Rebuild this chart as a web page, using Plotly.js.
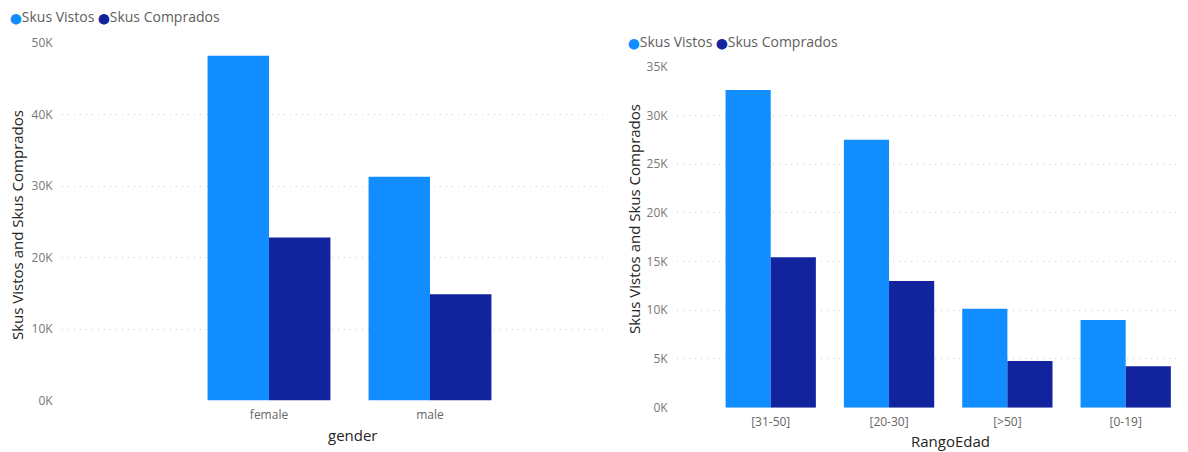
<!DOCTYPE html>
<html>
<head>
<meta charset="utf-8">
<script src="https://cdn.plot.ly/plotly-3.0.1.min.js"></script>
<style>html,body{margin:0;padding:0;background:#fff;}#chart{width:1188px;height:452px;}</style>
</head>
<body>
<div id="chart"></div>
<script>
// ---- data ----
const genderCats = ["female", "male"];
const genderVistos = [48200, 31300];
const genderComprados = [22800, 14850];

const edadCats = ["[31-50]", "[20-30]", "[>50]", "[0-19]"];
const edadVistos = [32600, 27500, 10150, 9000];
const edadComprados = [15450, 13000, 4800, 4250];

const leftTickVals = [0, 10000, 20000, 30000, 40000, 50000];
const leftTickText = ["0K", "10K", "20K", "30K", "40K", "50K"];
const rightTickVals = [0, 5000, 10000, 15000, 20000, 25000, 30000, 35000];
const rightTickText = ["0K", "5K", "10K", "15K", "20K", "25K", "30K", "35K"];

const seriesNames = ["Skus Vistos", "Skus Comprados"];
// ---- style ----
const C1 = "#118DFF", C2 = "#12239E";
const FONT = "'Segoe UI', 'Open Sans', sans-serif";
const W = 1188, H = 452;
const px = v => v / W, py = v => 1 - v / H;

const traces = [
  {type: "bar", name: seriesNames[0], x: genderCats, y: genderVistos, marker: {color: C1}, xaxis: "x", yaxis: "y", showlegend: false, hoverinfo: "x+y+name"},
  {type: "bar", name: seriesNames[1], x: genderCats, y: genderComprados, marker: {color: C2}, xaxis: "x", yaxis: "y", showlegend: false, hoverinfo: "x+y+name"},
  {type: "bar", name: seriesNames[0], x: edadCats, y: edadVistos, marker: {color: C1}, xaxis: "x2", yaxis: "y2", showlegend: false, hoverinfo: "x+y+name"},
  {type: "bar", name: seriesNames[1], x: edadCats, y: edadComprados, marker: {color: C2}, xaxis: "x2", yaxis: "y2", showlegend: false, hoverinfo: "x+y+name"}
];

const gridStyle = {showgrid: true, gridcolor: "#c8c8c8", gridwidth: 1, griddash: "1px,5px", zeroline: false, showline: false};
const tickFontY = {family: FONT, size: 12, color: "#777777"};
const tickFontX = {family: FONT, size: 12, color: "#666666"};

function legendText() {
  return '<span style="color:' + C1 + ';font-family:DejaVu Sans;font-size:10.5px">⬤</span>' + seriesNames[0] +
         ' <span style="color:' + C2 + ';font-family:DejaVu Sans;font-size:10.5px">⬤</span>' + seriesNames[1];
}

const layout = {
  width: W, height: H,
  margin: {l: 0, r: 0, t: 0, b: 0},
  paper_bgcolor: "#fff", plot_bgcolor: "#fff",
  barmode: "group", bargap: 0.237, bargroupgap: 0,
  showlegend: false,
  font: {family: FONT},
  xaxis: {domain: [px(62), px(605)], anchor: "y", type: "category", range: [-1.2857, 2.087], showgrid: false, zeroline: false, showline: false,
          ticks: "outside", ticklen: 3, tickcolor: "rgba(0,0,0,0)", tickfont: tickFontX, fixedrange: true},
  yaxis: Object.assign({domain: [py(400.5), py(43)], anchor: "x", range: [0, 50000], tickvals: leftTickVals, ticktext: leftTickText,
          ticks: "outside", ticklen: 6, tickcolor: "rgba(0,0,0,0)", tickfont: tickFontY, fixedrange: true}, gridStyle),
  xaxis2: {domain: [px(677), px(1178)], anchor: "y2", type: "category", range: [-0.792, 3.442], showgrid: false, zeroline: false, showline: false,
          ticks: "outside", ticklen: 3, tickcolor: "rgba(0,0,0,0)", tickfont: tickFontX, fixedrange: true},
  yaxis2: Object.assign({domain: [py(407.7), py(66.7)], anchor: "x2", range: [0, 35000], tickvals: rightTickVals, ticktext: rightTickText,
          ticks: "outside", ticklen: 6, tickcolor: "rgba(0,0,0,0)", tickfont: tickFontY, fixedrange: true}, gridStyle),
  annotations: [
    {xref: "paper", yref: "paper", x: px(8), y: py(16.5), xanchor: "left", yanchor: "middle", showarrow: false,
     font: {family: FONT, size: 14, color: "#605E5C"}, text: legendText()},
    {xref: "paper", yref: "paper", x: px(626), y: py(41.5), xanchor: "left", yanchor: "middle", showarrow: false,
     font: {family: FONT, size: 14, color: "#605E5C"}, text: legendText()},
    {xref: "paper", yref: "paper", x: px(17), y: py(225), xanchor: "center", yanchor: "middle", textangle: -90, showarrow: false,
     font: {family: FONT, size: 15, color: "#252423"}, text: "Skus Vistos and Skus Comprados"},
    {xref: "paper", yref: "paper", x: px(634), y: py(219), xanchor: "center", yanchor: "middle", textangle: -90, showarrow: false,
     font: {family: FONT, size: 15, color: "#252423"}, text: "Skus Vistos and Skus Comprados"},
    {xref: "paper", yref: "paper", x: px(353), y: py(435), xanchor: "center", yanchor: "middle", showarrow: false,
     font: {family: FONT, size: 15, color: "#252423"}, text: "gender"},
    {xref: "paper", yref: "paper", x: px(950), y: py(441), xanchor: "center", yanchor: "middle", showarrow: false,
     font: {family: FONT, size: 15, color: "#252423"}, text: "RangoEdad"}
  ]
};

Plotly.newPlot("chart", traces, layout, {displayModeBar: false, responsive: false});
</script>
</body>
</html>
